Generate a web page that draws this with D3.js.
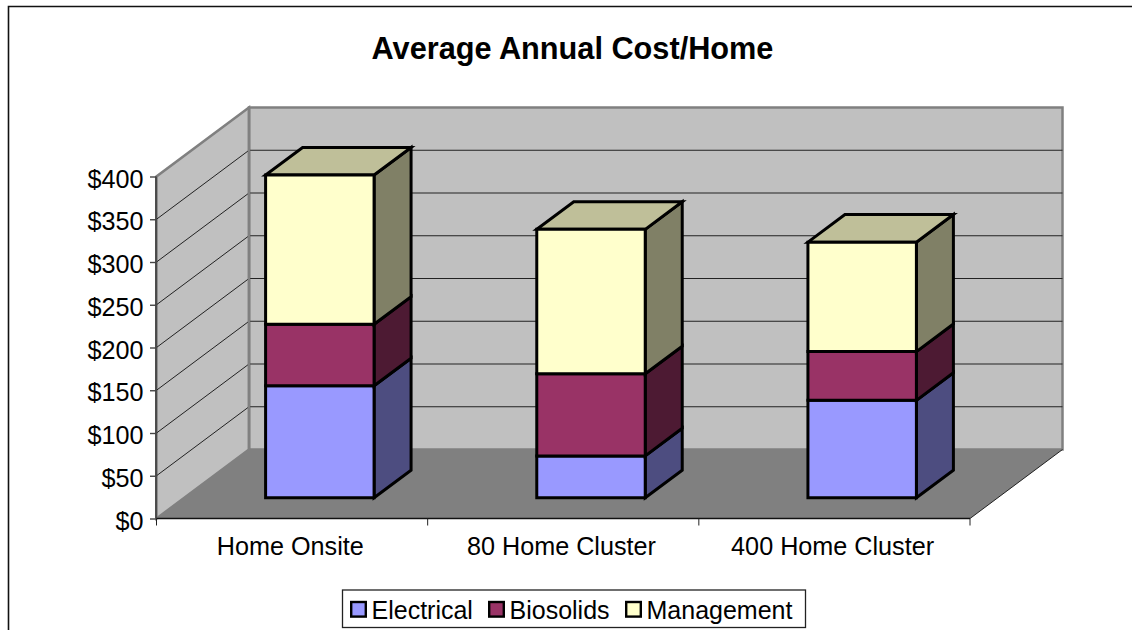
<!DOCTYPE html>
<html><head><meta charset="utf-8">
<script src="https://cdnjs.cloudflare.com/ajax/libs/d3/7.8.5/d3.min.js"></script>
<style>html,body{margin:0;padding:0;background:#fff;overflow:hidden}svg{display:block}text{font-family:"Liberation Sans",Arial,sans-serif;fill:#000}</style>
</head><body><svg id="c" width="1132" height="630"></svg>
<script>
const title = "Average Annual Cost/Home";
const categories = ["Home Onsite", "80 Home Cluster", "400 Home Cluster"];
const seriesNames = ["Electrical", "Biosolids", "Management"];
const electrical = [131, 49, 114];
const biosolids = [72, 96, 57];
const management = [174.5, 169, 128];
const yTicks = [0, 50, 100, 150, 200, 250, 300, 350, 400];
const frontColors = ["#9999ff", "#993366", "#ffffcc"];
const topColors = ["#7373bf", "#732650", "#bfbf99"];
const sideColors = ["#4d4d80", "#4d1a33", "#808066"];

const svg = d3.select("#c");
const x = d3.scaleBand().domain(categories).range([156.5, 970]).paddingInner(0.6).paddingOuter(0.3);
const xOuter = d3.scaleBand().domain(categories).range([156.5, 970]);
const y = d3.scaleLinear().domain([0, 400]).range([518.5, 176.5]);
// depth projection: 0 = front of floor, 1 = back wall
const dx = d3.scaleLinear().domain([0, 1]).range([0, 92.5]);
const dy = d3.scaleLinear().domain([0, 1]).range([0, -69]);
const P = (xv, v, d) => [xv + dx(d), y(v) + dy(d)];
const line = d3.line();
const poly = pts => line(pts) + "Z";
const [x0, x1] = xOuter.range();

// chart frame
svg.append("path").attr("d", "M8.5,630V6.5H1132").attr("fill", "none").attr("stroke", "#111").attr("stroke-width", 1.6);

svg.append("text").attr("x", 572.5).attr("y", 59).attr("text-anchor", "middle")
  .style("font-size", "30.7px").style("font-weight", "bold").text(title);

const yMax = 400;
// back wall, side wall, floor
svg.append("path").attr("d", poly([P(x0, 0, 1), P(x1, 0, 1), P(x1, yMax, 1), P(x0, yMax, 1)]))
  .attr("fill", "#c0c0c0").attr("stroke", "#808080").attr("stroke-width", 2.5);
svg.append("path").attr("d", poly([P(x0, 0, 0), P(x0, 0, 1), P(x0, yMax, 1), P(x0, yMax, 0)]))
  .attr("fill", "#c0c0c0").attr("stroke", "#808080").attr("stroke-width", 2.5);
svg.append("path").attr("d", poly([P(x0, 0, 0), P(x1, 0, 0), P(x1, 0, 1), P(x0, 0, 1)]))
  .attr("fill", "#808080");

// gridlines
const grid = yTicks.filter(t => t > 0 && t < yMax);
const gridG = svg.append("g").attr("fill", "none").attr("stroke", "#222").attr("stroke-width", 1);
grid.forEach(t => {
  gridG.append("path").attr("d", line([P(x0, t, 0), P(x0, t, 1), P(x1, t, 1)]));
});
// floor right edge
svg.append("path").attr("d", line([P(x1, 0, 0), P(x1, 0, 1)])).attr("stroke", "#222").attr("fill", "none");
// wall inner vertical edge over gridlines
svg.append("path").attr("d", line([P(x0, 0, 1), P(x0, yMax, 1)])).attr("stroke", "#808080").attr("stroke-width", 2.5).attr("fill", "none");

// axes
const axisL = d3.axisLeft(y).tickValues(yTicks).tickFormat(d => "$" + d).tickSize(6).tickPadding(6.5);
const gy = svg.append("g").attr("transform", `translate(${x0 - 0.5},0)`).call(axisL);
gy.selectAll("text").style("font-size", "25.2px").attr("dy", "0.42em").attr("fill", "#000");
gy.selectAll("line").attr("stroke", "#444").attr("stroke-width", 1.4);
gy.select(".domain").attr("stroke", "#444").attr("stroke-width", 1.8).attr("d", line([[0, y(400)], [0, y(0)]]));

const xEdges = categories.map(c => xOuter(c)).concat([x1]);
svg.append("path").attr("d", line([[x0, y(0)], [x1, y(0)]])).attr("stroke", "#111").attr("stroke-width", 1.5);
svg.append("g").selectAll("line").data(xEdges).join("line")
  .attr("x1", d => d).attr("x2", d => d).attr("y1", y(0)).attr("y2", y(0) + 7)
  .attr("stroke", "#222").attr("stroke-width", 1);
svg.append("g").selectAll("text").data(categories).join("text")
  .attr("x", c => xOuter(c) + xOuter.bandwidth() / 2 - 1.8).attr("y", 554.5).attr("text-anchor", "middle")
  .style("font-size", "25.2px").text(c => c);

// stacked 3D bars
const values = [electrical, biosolids, management];
const dFront = 0.3, dBack = 0.7;
categories.forEach((c, i) => {
  const bx0 = x(c), bx1 = x(c) + x.bandwidth();
  let base = 0;
  const g = svg.append("g").attr("stroke", "#000").attr("stroke-width", 3).attr("stroke-linejoin", "miter");
  values.forEach((vals, s) => {
    const top = base + vals[i];
    g.append("path").attr("d", poly([P(bx1, base, dFront), P(bx1, base, dBack), P(bx1, top, dBack), P(bx1, top, dFront)])).attr("fill", sideColors[s]);
    if (s === values.length - 1)
      g.append("path").attr("d", poly([P(bx0, top, dFront), P(bx1, top, dFront), P(bx1, top, dBack), P(bx0, top, dBack)])).attr("fill", topColors[s]);
    g.append("path").attr("d", poly([P(bx0, base, dFront), P(bx1, base, dFront), P(bx1, top, dFront), P(bx0, top, dFront)])).attr("fill", frontColors[s]);
    base = top;
  });
});

// legend
const lg = svg.append("g");
lg.append("rect").attr("x", 342.5).attr("y", 590).attr("width", 463).attr("height", 37.5)
  .attr("fill", "#fff").attr("stroke", "#222").attr("stroke-width", 1.3);
const legendX = [351.2, 489.2, 626.2];
seriesNames.forEach((n, i) => {
  lg.append("rect").attr("x", legendX[i]).attr("y", 602).attr("width", 14.6).attr("height", 14.6)
    .attr("fill", frontColors[i]).attr("stroke", "#000").attr("stroke-width", 2.4);
  lg.append("text").attr("x", legendX[i] + 20.3).attr("y", 618.5).style("font-size", "25px").text(n);
});
</script></body></html>
